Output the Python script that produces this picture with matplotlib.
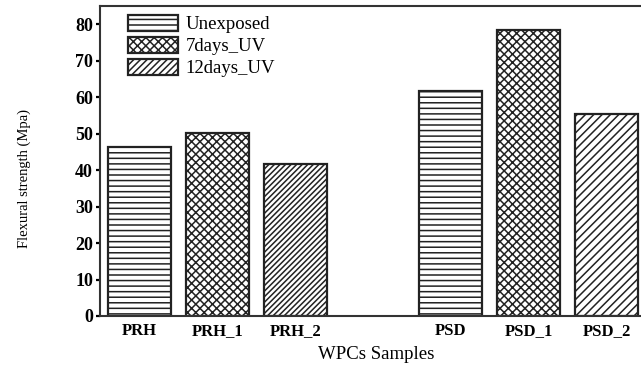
import numpy as np
import matplotlib.pyplot as plt

# flexural strength of the WPC samples (MPa)
samples = ['PRH', 'PRH_1', 'PRH_2', 'PSD', 'PSD_1', 'PSD_2']
strength = [46.3, 50.1, 41.6, 61.6, 78.4, 55.3]
conditions = ['Unexposed', '7days_UV', '12days_UV']
bar_hatches = ['---', 'xxxx', '//////', '---', 'xxxx', '////']
legend_hatches = ['---', 'xxxx', '/////']

plt.rcParams['font.family'] = ['Liberation Serif', 'DejaVu Serif']
plt.rcParams['hatch.linewidth'] = 1.1

fig = plt.figure(figsize=(6.41, 3.67), dpi=100)
ax = fig.add_axes([0.156, 0.139, 0.863, 0.845])

pos = np.array([0, 1, 2, 4, 5, 6])
bars = ax.bar(pos, strength, width=0.81, color='white', edgecolor='#222222',
              linewidth=1.6)
for b, h in zip(bars, bar_hatches):
    b.set_hatch(h)

ax.set_xlim(-0.51, 6.6)
ax.set_ylim(0, 85)
ax.set_xticks(pos)
ax.set_xticklabels(samples, fontsize=12)
ax.set_yticks(range(0, 81, 10))
ax.tick_params(axis='x', length=0, pad=5)
ax.tick_params(axis='y', direction='out', length=3, width=1.6, labelsize=13, pad=2)
for lab in ax.get_yticklabels() + ax.get_xticklabels():
    lab.set_fontweight('bold')

for side in ['left', 'bottom', 'top']:
    ax.spines[side].set_linewidth(1.5)
    ax.spines[side].set_color('#333333')
ax.spines['right'].set_visible(False)

ax.set_xlabel('WPCs Samples', fontsize=13.5, labelpad=5)
ax.set_ylabel('Flexural strength (Mpa)', fontsize=10.5)
ax.yaxis.set_label_coords(-0.125, 0.442)

handles = [plt.Rectangle((0, 0), 1, 1, facecolor='white', edgecolor='#222222',
                         linewidth=1.6, hatch=h) for h in legend_hatches]
ax.legend(handles, conditions, loc='upper left', bbox_to_anchor=(0.033, 1.0),
          frameon=False, fontsize=13.5, handlelength=2.7, handleheight=0.9,
          handletextpad=0.4, labelspacing=0.2, borderaxespad=0.1)

fig.savefig('out.png', dpi=100)
